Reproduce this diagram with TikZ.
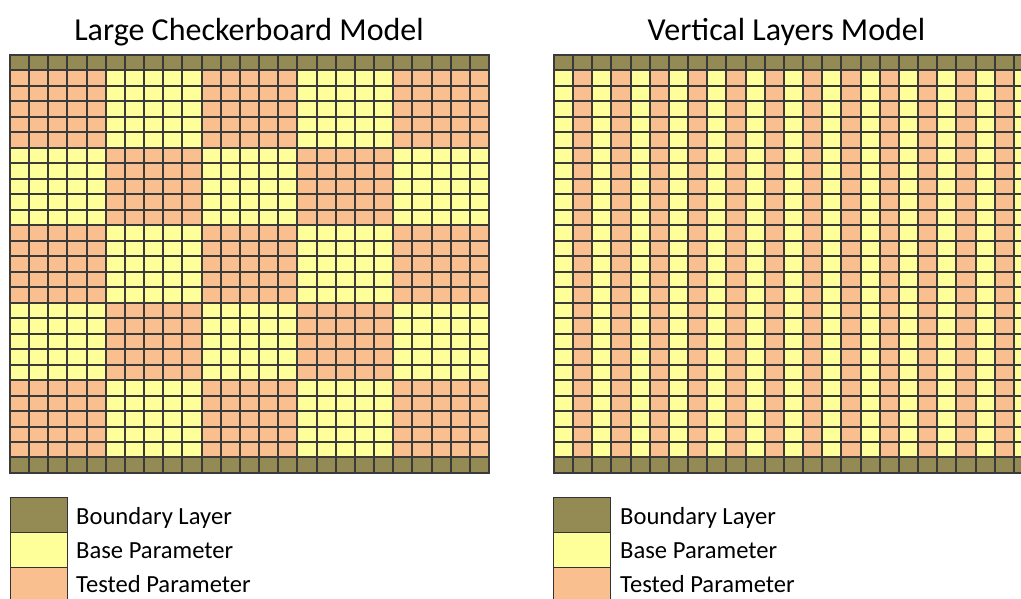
\documentclass[tikz,border=0pt]{standalone}
\usepackage{fontspec}
\setmainfont{Carlito}
\definecolor{boundary}{HTML}{948A54}
\definecolor{base}{HTML}{FFFF99}
\definecolor{tested}{HTML}{FABF8F}
\definecolor{gridline}{HTML}{3A3A3A}
\def\cw{19.16}
\def\ch{15.48}

\begin{document}
\begin{tikzpicture}[x=1pt, y=-1pt,
    cell/.style={draw=gridline, line width=2pt},
    keybox/.style={draw=black!80, line width=0.8pt},
    title/.style={anchor=base, font=\fontsize{32}{36}\selectfont},
    keytext/.style={anchor=base west, inner sep=0pt, font=\fontsize{24.6}{28}\selectfont}]
    \useasboundingbox (0,0) rectangle (1021,599);
    \clip (0,0) rectangle (1021,599);

    \node[title] (checktitle) at (249,40.7) {Large Checkerboard Model};
    \node[title] (layertitle) at (786.5,40.7) {Vertical Layers Model};

    % checkerboard: blocks of 5x5 cells, rows 0 and 26 are the boundary layer
    \foreach \i in {0,...,24} {
        \filldraw[cell, fill=boundary] ({10+\i*\cw},55) rectangle +(\cw,\ch);
        \filldraw[cell, fill=boundary] ({10+\i*\cw},{55+26*\ch}) rectangle +(\cw,\ch);
        \foreach \j in {1,...,25} {
            \pgfmathtruncatemacro\blk{mod(floor(\i/5)+floor((\j-1)/5),2)}
            \ifnum\blk=0 \def\fc{tested}\else\def\fc{base}\fi
            \filldraw[cell, fill=\fc] ({10+\i*\cw},{55+\j*\ch}) rectangle +(\cw,\ch);
        }
    }

    % vertical layers: columns alternate, first one is base
    \foreach \i in {0,...,24} {
        \filldraw[cell, fill=boundary] ({554+\i*\cw},55) rectangle +(\cw,\ch);
        \filldraw[cell, fill=boundary] ({554+\i*\cw},{55+26*\ch}) rectangle +(\cw,\ch);
        \pgfmathtruncatemacro\colodd{mod(\i,2)}
        \ifnum\colodd=0 \def\fc{base}\else\def\fc{tested}\fi
        \foreach \j in {1,...,25}
            \filldraw[cell, fill=\fc] ({554+\i*\cw},{55+\j*\ch}) rectangle +(\cw,\ch);
    }

    % legends
    \filldraw[keybox, fill=boundary] (10,497.7)  rectangle (67,532.7);
    \filldraw[keybox, fill=base]     (10,532.7)  rectangle (67,567.3);
    \filldraw[keybox, fill=tested]   (10,567.3)  rectangle (67,602);
    \node[keytext] (lboundary) at (76,524.3) {Boundary Layer};
    \node[keytext] (lbase)     at (76,558.7) {Base Parameter};
    \node[keytext] (ltested)   at (76,592.7) {Tested Parameter};

    \filldraw[keybox, fill=boundary] (553.5,497.7) rectangle (610.7,532.7);
    \filldraw[keybox, fill=base]     (553.5,532.7) rectangle (610.7,567.3);
    \filldraw[keybox, fill=tested]   (553.5,567.3) rectangle (610.7,602);
    \node[keytext] (rboundary) at (620,524.3) {Boundary Layer};
    \node[keytext] (rbase)     at (620,558.7) {Base Parameter};
    \node[keytext] (rtested)   at (620,592.7) {Tested Parameter};
\end{tikzpicture}
\end{document}
